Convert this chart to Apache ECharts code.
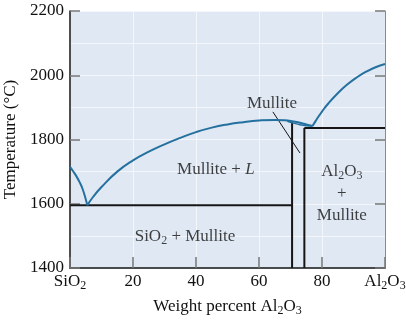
<!DOCTYPE html>
<html>
<head>
<meta charset="utf-8">
<script src="https://cdn.jsdelivr.net/npm/echarts@6/dist/echarts.min.js"></script>
<style>html,body{margin:0;padding:0;background:#fff}#c{width:406px;height:321px}</style>
</head>
<body>
<div id="c"></div>
<script>
// Data (weight percent Al2O3, temperature in °C)
var xTicks = [0, 20, 40, 60, 80, 100];
var yTicks = [1400, 1600, 1800, 2000, 2200];
var leftLiquidus = [[0,1715],[1,1701],[2,1686],[3,1668],[4,1646],[5,1614],[5.5,1595]];
var mulliteLiquidus = [[5.5,1595],[7.3,1621],[10,1652],[15,1700],[20,1735],[25,1762],[30,1785],[35,1805],[40,1823],[45,1837],[50,1847],[55,1854],[60,1859],[65,1861],[68,1860],[70.5,1857],[73,1852],[75,1847],[77,1842]];
var mulliteLens = [[69,1857],[71,1851],[73,1846],[75,1843],[77,1842]];
var aluminaLiquidus = [[77,1842],[78,1858],[79,1873],[80,1887],[82,1912],[85,1944],[88,1971],[91,1993],[94,2011],[97,2025],[100,2035]];
var eutecticLine = [[0,1595],[70.5,1595]];
var mulliteLeft = [[70.5,1400],[70.5,1856]];
var mulliteRight = [[74.4,1400],[74.4,1836]];
var aluminaSolidus = [[74.4,1836],[100,1836]];
var leaderLine = [[64.4,1886],[73.0,1758]];
var regionLabels = [
  {name: 'mullite', value: [64.1, 1911], text: '{n|Mullite}'},
  {name: 'mulliteL', value: [46.3, 1705], text: '{n|Mullite + }{i|L}'},
  {name: 'alumina', value: [86.3, 1632], text: '{n|Al}{s|2}{n|O}{s|3}\n{n|+}\n{n|Mullite}'},
  {name: 'silica', value: [36.5, 1497], text: '{n|SiO}{s|2}{n| + Mullite}'}
];

var FONT = 'Liberation Serif, DejaVu Serif, serif';
var BLUE = '#24709f';
var BLACK = '#151515';
var rich = {
  n: {fontSize: 17, fontFamily: FONT, color: '#111', lineHeight: 22},
  i: {fontSize: 17, fontFamily: FONT, color: '#111', fontStyle: 'italic', lineHeight: 22},
  s: {fontSize: 12, fontFamily: FONT, color: '#111', padding: [8, 0, 0, 0], lineHeight: 22}
};

function lineSeries(data, color, width, smooth) {
  return {type: 'line', data: data, showSymbol: false, symbol: 'none',
    smooth: smooth ? 0.5 : false,
    lineStyle: {color: color, width: width}, silent: true, animation: false, z: 3};
}

var chart = echarts.init(document.getElementById('c'), null, {renderer: 'canvas'});
chart.setOption({
  animation: false,
  grid: {left: 70, right: 21, top: 11, bottom: 53, show: true, backgroundColor: '#dfe8f3',
    borderWidth: 0, containLabel: false, outerBoundsMode: 'none'},
  xAxis: {
    type: 'value', min: xTicks[0], max: xTicks[xTicks.length - 1], interval: 20,
    axisLine: {show: true, lineStyle: {color: BLACK, width: 1.5}},
    axisTick: {show: true, inside: true, length: 11, lineStyle: {color: '#777', width: 1.5}},
    splitLine: {show: true, lineStyle: {color: '#f3f6fa', width: 1}},
    axisLabel: {
      margin: 3, color: '#111',
      formatter: function (v) {
        if (v === 0) return '{n|SiO}{s|2}';
        if (v === 100) return '{n|Al}{s|2}{n|O}{s|3}';
        return '{n|' + v + '}';
      },
      rich: rich
    },
    name: '{n|Weight percent Al}{s|2}{n|O}{s|3}',
    nameLocation: 'middle', nameGap: 26,
    nameTextStyle: {rich: rich}
  },
  yAxis: [{
    type: 'value', min: yTicks[0], max: yTicks[yTicks.length - 1], interval: 200,
    axisLine: {show: true, lineStyle: {color: BLACK, width: 1.5}},
    axisTick: {show: true, inside: true, length: 10, lineStyle: {color: '#777', width: 1.5}},
    splitLine: {show: true, lineStyle: {color: '#f3f6fa', width: 1}},
    minorTick: {show: false, splitNumber: 2},
    minorSplitLine: {show: true, lineStyle: {color: '#f3f6fa', width: 1}},
    axisLabel: {margin: 6, color: '#111', fontSize: 17, fontFamily: FONT,
      formatter: function (v) { return String(v); }},
    name: 'Temperature (°C)', nameLocation: 'middle', nameGap: 48, nameRotate: 90,
    nameTextStyle: {fontSize: 17, fontFamily: FONT, color: '#111'}
  }, {
    type: 'value', position: 'right', min: yTicks[0], max: yTicks[yTicks.length - 1], interval: 200,
    axisLine: {show: true, lineStyle: {color: '#8a8a8a', width: 1}},
    axisTick: {show: true, inside: true, length: 10, lineStyle: {color: '#777', width: 1.5}},
    splitLine: {show: false},
    axisLabel: {show: false}
  }],
  series: [
    lineSeries(eutecticLine, BLACK, 2),
    lineSeries(mulliteLeft, BLACK, 2),
    lineSeries(mulliteRight, BLACK, 2),
    lineSeries(aluminaSolidus, BLACK, 2),
    lineSeries(leaderLine, BLACK, 1),
    lineSeries(leftLiquidus, BLUE, 2, true),
    lineSeries(mulliteLiquidus, BLUE, 2, true),
    lineSeries(mulliteLens, BLUE, 1.5, true),
    lineSeries(aluminaLiquidus, BLUE, 2, true),
    {
      type: 'scatter', symbolSize: 0, silent: true, z: 5,
      data: regionLabels.map(function (d) { return {name: d.name, value: d.value, text: d.text}; }),
      label: {
        show: true, position: 'inside', align: 'center', verticalAlign: 'middle',
        formatter: function (p) { return p.data.text; },
        rich: rich
      }
    }
  ]
});
</script>
</body>
</html>
